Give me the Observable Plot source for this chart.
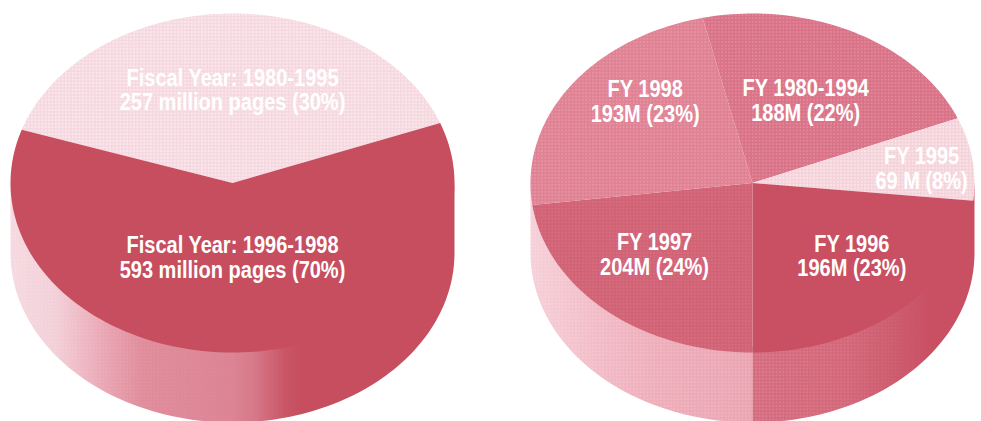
<!DOCTYPE html>
<html>
<head>
<meta charset="utf-8">
<script src="https://cdn.jsdelivr.net/npm/d3@7"></script>
<script src="https://cdn.jsdelivr.net/npm/@observablehq/plot@0.6"></script>
<style>
html,body{margin:0;padding:0;background:#fff;}
svg{display:block;}
</style>
</head>
<body>
<div id="chart"></div>
<script>
// Left pie
const leftLabels = ["Fiscal Year: 1980-1995", "Fiscal Year: 1996-1998"];
const leftDetail = ["257 million pages (30%)", "593 million pages (70%)"];
const leftPages = [257, 593];
// sweep of each slice as actually drawn in the picture, degrees
const leftSweep = [141, 219];

// Right pie
const rightLabels = ["FY 1980-1994", "FY 1995", "FY 1996", "FY 1997", "FY 1998"];
const rightDetail = ["188M (22%)", "69 M (8%)", "196M (23%)", "204M (24%)", "193M (23%)"];
const rightPages = [188, 69, 196, 204, 193];
const rightSweep = [80.5, 28.5, 84, 82.5, 84.5];

// Styling and layout
const leftColors = ["#f6d9e0", "#c64e5e"];
const rightColors = ["#da7388", "#f5d3db", "#c95063", "#d26376", "#e08294"];
const leftTexture = ["url(#dotsStrong)", null];
const rightTexture = ["url(#dotsSoft)", "url(#dotsStrong)", null, "url(#dotsFaint)", "url(#dotsSoft)"];
const leftPlace = {cx: 232, start: -71.7, turn: [1.2, 1.2], reach: [0.546, 0.44]};
const rightPlace = {cx: 752, start: -13, turn: [-1, 2, -4, 5, 10], reach: [0.542, 0.766, 0.622, 0.611, 0.681]};
const cy = 182.5, rx = 222, ry = 169.5, depth = 70, tuck = 6;
const textSqueeze = 0.87;

const rim = (cx, deg, drop = 0, k = 1) => {
  const a = deg * Math.PI / 180;
  return {x: cx + k * rx * Math.sin(a), y: cy + drop - k * ry * Math.cos(a)};
};
const arc = (cx, a0, a1, drop = 0) => {
  const n = Math.max(2, Math.ceil(Math.abs(a1 - a0) / 1.5));
  return d3.range(n + 1).map(i => rim(cx, a0 + (a1 - a0) * i / n, drop));
};
const slices = (sweep, place) =>
  d3.pie().sort(null).startAngle(place.start * Math.PI / 180).endAngle((place.start + 360) * Math.PI / 180)(sweep)
    .map(d => ({a0: d.startAngle * 180 / Math.PI, a1: d.endAngle * 180 / Math.PI, i: d.index}));
const wedge = (cx, s) => [{x: cx, y: cy}, ...arc(cx, s.a0, s.a1), {x: cx, y: cy}];
// The side's upper edge is tucked under the top face so no seam shows
const wall = (cx, a0, a1) => [...arc(cx, a0, a1, -tuck), ...arc(cx, a1, a0, depth)];
const poly = (pts, fill, fillOpacity = 1) => Plot.line(pts, {x: "x", y: "y", fill, fillOpacity, stroke: "none", curve: "linear"});

const defs = () => {
  const svg = d3.create("svg:g");
  const d = svg.append("defs");
  const grad = (id, x1, x2, stops) => {
    const g = d.append("linearGradient").attr("id", id).attr("gradientUnits", "userSpaceOnUse")
      .attr("x1", x1).attr("x2", x2).attr("y1", 0).attr("y2", 0);
    stops.forEach(([o, c]) => g.append("stop").attr("offset", o).attr("stop-color", c));
  };
  grad("wallLeft", 10, 454, [[0, "#f6d9e0"], [0.1, "#f3d0d9"], [0.22, "#e9a3b1"], [0.3, "#e08c9b"], [0.5, "#dc8494"], [0.55, "#d67888"], [0.62, "#c95565"], [0.66, "#c64e5e"], [1, "#c64e5e"]]);
  grad("wallMid", 530, 752, [[0, "#f6d0d9"], [0.3, "#f2bcc7"], [0.55, "#eeaeba"], [1, "#eaa5b2"]]);
  grad("wallRight", 752, 975, [[0, "#d56c7f"], [0.42, "#d4687b"], [0.66, "#cc5a6c"], [0.8, "#c95063"], [1, "#c95063"]]);
  const dots = (id, op) => {
    const p = d.append("pattern").attr("id", id).attr("patternUnits", "userSpaceOnUse").attr("width", 3.4).attr("height", 3.4);
    p.append("rect").attr("width", 1.7).attr("height", 1.7).attr("fill", "#fff").attr("opacity", op);
  };
  dots("dotsStrong", 0.45);
  dots("dotsSoft", 0.16);
  dots("dotsFaint", 0.08);
  return svg.node();
};

// Halftone on the pie's side: thin strips of dots that fade out along the rim
const fadingDots = (cx, a0, a1) => d3.range(a0, a1, 4).map(a =>
  poly(wall(cx, a, Math.min(a + 4, a1)), "url(#dotsSoft)", (a - a0) / (a1 - a0)));

const L = slices(leftSweep, leftPlace);
const R = slices(rightSweep, rightPlace);
const tops = (S, place, colors, textures) => S.flatMap(s => {
  const m = [poly(wedge(place.cx, s), colors[s.i])];
  if (textures[s.i]) m.push(poly(wedge(place.cx, s), textures[s.i]));
  return m;
});
const labelRows = (S, place, labels, detail, pages) => S.map(s => ({
  ...rim(place.cx, (s.a0 + s.a1) / 2 + place.turn[s.i], 0, place.reach[s.i]),
  text: labels[s.i] + "\n" + detail[s.i],
  pages: pages[s.i]
}));
const rows = [
  ...labelRows(L, leftPlace, leftLabels, leftDetail, leftPages),
  ...labelRows(R, rightPlace, rightLabels, rightDetail, rightPages)
];

const plot = Plot.plot({
  width: 981, height: 421,
  margin: 0,
  x: {domain: [0, 981], range: [0, 981], axis: null},
  y: {domain: [0, 421], range: [0, 421], axis: null},
  style: {background: "#fff"},
  marks: [
    defs,
    poly(wall(leftPlace.cx, 90, 270), "url(#wallLeft)"),
    ...fadingDots(leftPlace.cx, 168, 270),
    poly(wall(rightPlace.cx, 180, 270), "url(#wallMid)"),
    poly(wall(rightPlace.cx, 180, 270), "url(#dotsSoft)"),
    poly(wall(rightPlace.cx, 90, 180), "url(#wallRight)"),
    ...fadingDots(rightPlace.cx, 125, 180),
    ...tops(L, leftPlace, leftColors, leftTexture),
    ...tops(R, rightPlace, rightColors, rightTexture),
    Plot.text(rows, {
      x: "x", y: "y", text: "text",
      fill: "#fff",
      fontFamily: "'Liberation Sans',Arial,sans-serif",
      fontWeight: 700,
      fontSize: 23,
      lineHeight: 1.06,
      textAnchor: "middle"
    })
  ]
});
// The original lettering is a condensed face: narrow the real text horizontally
d3.select(plot).selectAll("text").each(function () {
  const t = this.getAttribute("transform") || "";
  this.setAttribute("transform", t + " scale(" + textSqueeze + ",1)");
});
document.getElementById("chart").append(plot);
</script>
</body>
</html>
